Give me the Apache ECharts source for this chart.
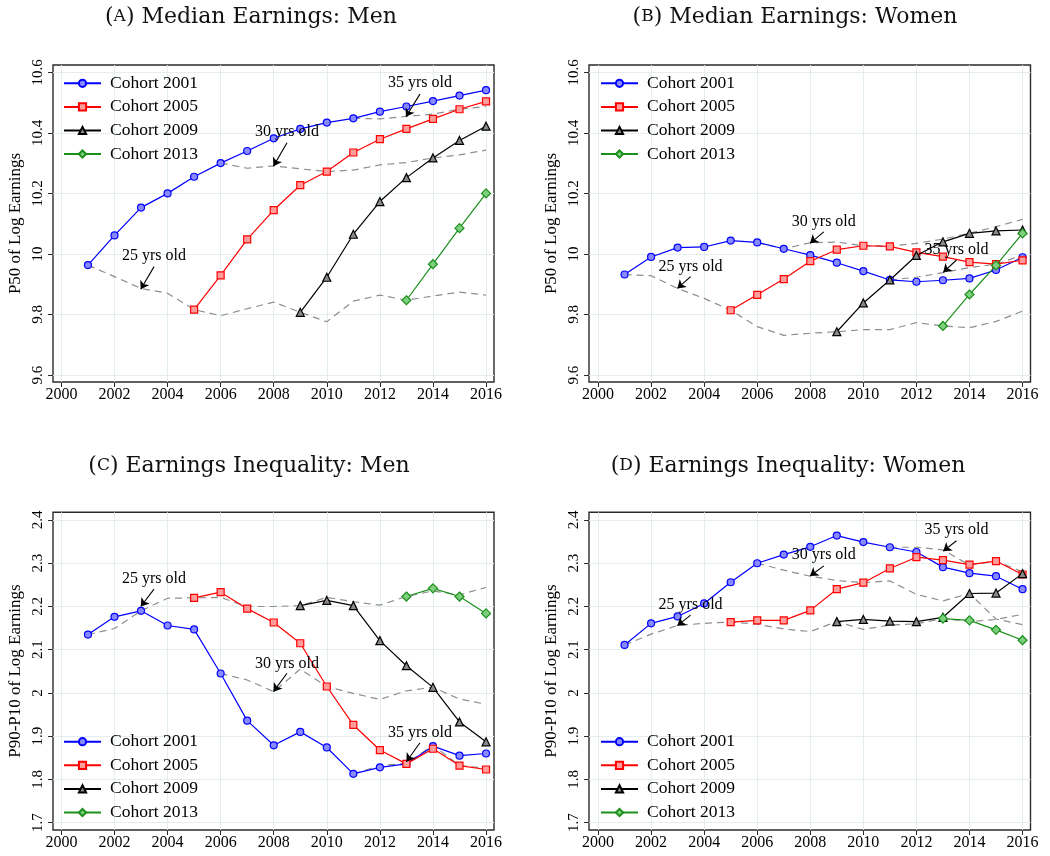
<!DOCTYPE html>
<html><head><meta charset="utf-8">
<script src="https://cdn.jsdelivr.net/npm/echarts@6/dist/echarts.min.js"></script>
<style>html,body{margin:0;padding:0;background:#fff}#c{width:1050px;height:856px}</style>
</head><body><div id="c"></div>
<script>
// ---------- DATA ----------
const xTicks = [2000, 2002, 2004, 2006, 2008, 2010, 2012, 2014, 2016];
const yTicksP50 = [9.6, 9.8, 10, 10.2, 10.4, 10.6];
const yTicksIneq = [1.7, 1.8, 1.9, 2, 2.1, 2.2, 2.3, 2.4];
const cohortNames = ['Cohort 2001', 'Cohort 2005', 'Cohort 2009', 'Cohort 2013'];
const cohortStart = [2001, 2005, 2009, 2013];
const ageStart = [2001, 2006, 2011]; // 25, 30, 35 yrs old profiles
const ageLabels = ['25 yrs old', '30 yrs old', '35 yrs old'];

// (A) Median earnings: men
const menP50_2001 = [9.963,10.061,10.153,10.200,10.255,10.300,10.340,10.382,10.413,10.434,10.448,10.470,10.487,10.505,10.523,10.541];
const menP50_2005 = [9.816,9.929,10.048,10.145,10.227,10.272,10.335,10.379,10.413,10.446,10.478,10.504];
const menP50_2009 = [9.807,9.923,10.065,10.173,10.252,10.317,10.375,10.422];
const menP50_2013 = [9.847,9.966,10.085,10.200];
const menP50_age25 = [9.963,9.925,9.886,9.870,9.816,9.796,9.819,9.841,9.807,9.776,9.844,9.864,9.847,9.861,9.874,9.864];
const menP50_age30 = [10.300,10.283,10.291,10.281,10.272,10.277,10.294,10.302,10.317,10.327,10.343];
const menP50_age35 = [10.448,10.446,10.454,10.462,10.478,10.487];

// (B) Median earnings: women
const womP50_2001 = [9.932,9.990,10.021,10.023,10.044,10.038,10.017,9.996,9.971,9.943,9.914,9.908,9.913,9.919,9.947,9.989];
const womP50_2005 = [9.814,9.865,9.917,9.976,10.014,10.027,10.025,10.005,9.991,9.973,9.966,9.979];
const womP50_2009 = [9.743,9.838,9.914,9.995,10.040,10.068,10.076,10.079];
const womP50_2013 = [9.762,9.866,9.962,10.068];
const womP50_age25 = [9.932,9.928,9.886,9.853,9.814,9.760,9.731,9.738,9.743,9.750,9.750,9.773,9.762,9.756,9.777,9.811];
const womP50_age30 = [10.038,10.017,10.037,10.039,10.027,10.026,10.035,10.049,10.068,10.090,10.114];
const womP50_age35 = [9.914,9.923,9.938,9.955,9.966,9.996];

// (C) Earnings inequality: men
const menIneq_2001 = [2.135,2.176,2.190,2.156,2.147,2.045,1.936,1.879,1.910,1.874,1.813,1.828,1.836,1.877,1.855,1.860];
const menIneq_2005 = [2.220,2.233,2.195,2.163,2.115,2.015,1.926,1.868,1.836,1.871,1.832,1.823];
const menIneq_2009 = [2.202,2.214,2.202,2.121,2.063,2.013,1.933,1.887];
const menIneq_2013 = [2.223,2.242,2.223,2.184];
const menIneq_age25 = [2.135,2.149,2.190,2.219,2.220,2.221,2.200,2.200,2.202,2.221,2.211,2.203,2.223,2.236,2.227,2.244];
const menIneq_age30 = [2.045,2.030,2.003,2.055,2.015,1.999,1.985,2.005,2.013,1.986,1.974];
const menIneq_age35 = [1.813,1.832,1.837,1.879,1.832,1.826];

// (D) Earnings inequality: women
const womIneq_2001 = [2.111,2.161,2.177,2.207,2.256,2.300,2.320,2.338,2.364,2.349,2.337,2.326,2.291,2.277,2.270,2.240];
const womIneq_2005 = [2.164,2.168,2.168,2.191,2.240,2.255,2.288,2.314,2.307,2.297,2.305,2.274];
const womIneq_2009 = [2.165,2.170,2.166,2.165,2.175,2.230,2.231,2.276];
const womIneq_2013 = [2.172,2.168,2.146,2.122];
const womIneq_age25 = [2.111,2.136,2.156,2.161,2.164,2.159,2.148,2.142,2.165,2.147,2.157,2.160,2.172,2.165,2.170,2.182];
const womIneq_age30 = [2.300,2.284,2.270,2.260,2.255,2.259,2.228,2.213,2.230,2.171,2.158];
const womIneq_age35 = [2.337,2.337,2.331,2.296,2.305,2.280];

// annotation anchors in data units: [textX, textY, arrowFromY, arrowToX, arrowToY]
const annotA = [[2003.49, 9.993, 9.958, 2002.99, 9.883], [2008.50, 10.403, 10.367, 2007.99, 10.290], [2013.51, 10.564, 10.528, 2012.98, 10.453]];
const annotB = [[2003.49, 9.958, 9.925, 2002.99, 9.886], [2008.51, 10.106, 10.073, 2007.99, 10.035], [2013.51, 10.013, 9.980, 2013.01, 9.939]];
const annotC = [[2003.49, 2.2636, 2.240, 2002.99, 2.200], [2008.50, 2.0686, 2.0455, 2007.99, 2.003], [2013.51, 1.909, 1.885, 2013.00, 1.841]];
const annotD = [[2003.49, 2.205, 2.180, 2002.99, 2.1556], [2008.51, 2.319, 2.294, 2007.99, 2.2705], [2013.51, 2.377, 2.352, 2013.01, 2.328]];

// ---------- LAYOUT / STYLE ----------
const FONT = '"Liberation Serif", "Times New Roman", serif';
const TFONT = '"DejaVu Serif", serif';
const panels = [
  {title: 'A', text: ') Median Earnings: Men', tx: 251, ty: 17, grid: {left: 53, top: 65, width: 441, height: 317},
   xr: [1999.683, 2016.30], yr: [9.5769, 10.6241], yTicks: yTicksP50, yName: 'P50 of Log Earnings',
   cohorts: [menP50_2001, menP50_2005, menP50_2009, menP50_2013], ages: [menP50_age25, menP50_age30, menP50_age35], annot: annotA,
   legend: {left: 63, top: 74.3}},
  {title: 'B', text: ') Median Earnings: Women', tx: 795, ty: 17, grid: {left: 589, top: 65, width: 441.5, height: 317},
   xr: [1999.66, 2016.30], yr: [9.5769, 10.6241], yTicks: yTicksP50, yName: 'P50 of Log Earnings',
   cohorts: [womP50_2001, womP50_2005, womP50_2009, womP50_2013], ages: [womP50_age25, womP50_age30, womP50_age35], annot: annotB,
   legend: {left: 600, top: 74.3}},
  {title: 'C', text: ') Earnings Inequality: Men', tx: 249, ty: 466, grid: {left: 53, top: 512.3, width: 441, height: 317.7},
   xr: [1999.683, 2016.30], yr: [1.6831, 2.4178], yTicks: yTicksIneq, yName: 'P90-P10 of Log Earnings',
   cohorts: [menIneq_2001, menIneq_2005, menIneq_2009, menIneq_2013], ages: [menIneq_age25, menIneq_age30, menIneq_age35], annot: annotC,
   legend: {left: 63, top: 732.7}},
  {title: 'D', text: ') Earnings Inequality: Women', tx: 788, ty: 466, grid: {left: 589, top: 512.3, width: 441.5, height: 317.7},
   xr: [1999.66, 2016.30], yr: [1.6831, 2.4178], yTicks: yTicksIneq, yName: 'P90-P10 of Log Earnings',
   cohorts: [womIneq_2001, womIneq_2005, womIneq_2009, womIneq_2013], ages: [womIneq_age25, womIneq_age30, womIneq_age35], annot: annotD,
   legend: {left: 600, top: 732.7}}
];
const cohortStyle = [
  {symbol: 'circle', size: 7, line: '#0000ff', fill: '#8a8aff'},
  {symbol: 'rect', size: 7, line: '#ff0000', fill: '#ff9c9c'},
  {symbol: 'triangle', size: 8, line: '#000000', fill: '#8a8a8a'},
  {symbol: 'diamond', size: 9, line: '#1b8f1b', fill: '#7dcf7d'}
];

const pairs = (start, arr) => arr.map((v, i) => [start + i, v]);

const option = {animation: false, backgroundColor: '#fff', grid: [], xAxis: [], yAxis: [], series: [], legend: [], graphic: []};

panels.forEach((p, pi) => {
  option.grid.push(Object.assign({show: true, borderColor: '#2b2b2b', borderWidth: 1.4, backgroundColor: 'transparent'}, p.grid));
  option.xAxis.push({
    type: 'value', gridIndex: pi, min: p.xr[0], max: p.xr[1], splitNumber: 8,
    axisLine: {show: false},
    axisTick: {show: true, length: 5, customValues: xTicks, lineStyle: {color: '#2b2b2b', width: 1}},
    axisLabel: {customValues: xTicks, fontFamily: FONT, fontSize: 16, color: '#000', margin: 5, formatter: v => String(Math.round(v))},
    splitLine: {show: true, lineStyle: {color: '#e4edef', width: 1}}
  });
  option.yAxis.push({
    type: 'value', gridIndex: pi, min: p.yr[0], max: p.yr[1],
    name: p.yName, nameLocation: 'middle', nameGap: 29,
    nameTextStyle: {fontFamily: FONT, fontSize: 17, color: '#000'},
    axisLine: {show: false},
    axisTick: {show: true, length: 5, customValues: p.yTicks, lineStyle: {color: '#2b2b2b', width: 1}},
    axisLabel: {customValues: p.yTicks, rotate: 90, fontFamily: FONT, fontSize: 15, color: '#000', margin: 7,
      formatter: v => String(Math.round(v * 10) / 10)},
    splitLine: {show: true, lineStyle: {color: '#e4edef', width: 1}}
  });
  // age profiles (dashed)
  p.ages.forEach((arr, ai) => {
    const a = p.annot[ai];
    option.series.push({
      type: 'line', name: ageLabels[ai] + ' ' + pi, xAxisIndex: pi, yAxisIndex: pi, data: pairs(ageStart[ai], arr),
      symbol: 'none', silent: true, z: 2,
      lineStyle: {color: '#8e8e8e', width: 1.2, type: [7, 5]},
      markLine: {silent: true, symbol: ['none', 'arrow'], symbolSize: 8, animation: false, z: 10,
        itemStyle: {color: '#000'},
        lineStyle: {color: '#000', width: 1.1, type: 'solid'}, label: {show: false},
        data: [[{coord: [a[0], a[2]]}, {coord: [a[3], a[4]]}]]},
      markPoint: {silent: true, symbol: 'rect', symbolSize: 1, itemStyle: {color: 'rgba(0,0,0,0)'}, z: 10,
        label: {show: true, position: 'inside', formatter: ageLabels[ai], fontFamily: FONT, fontSize: 16, color: '#000'},
        data: [{coord: [a[0], a[1]]}]}
    });
  });
  p.cohorts.forEach((arr, ci) => {
    const s = cohortStyle[ci];
    option.series.push({
      type: 'line', name: cohortNames[ci], xAxisIndex: pi, yAxisIndex: pi, data: pairs(cohortStart[ci], arr),
      symbol: s.symbol, symbolSize: s.size, showAllSymbol: true, z: 3 + ci,
      lineStyle: {color: s.line, width: 1.2},
      itemStyle: {color: s.fill, borderColor: s.line, borderWidth: 1.2}
    });
  });
  option.legend.push({
    data: cohortNames, orient: 'vertical', left: p.legend.left, top: p.legend.top, padding: 0,
    itemWidth: 37, itemHeight: 9, itemGap: 5.6, selectedMode: false,
    textStyle: {fontFamily: FONT, fontSize: 17.5, color: '#000', padding: [0, 0, 0, 4]}
  });
  option.graphic.push({
    type: 'text', x: p.tx, y: p.ty,
    style: {text: '{p|(}{s|' + p.title + '}{p|' + p.text + '}', align: 'center', verticalAlign: 'middle',
      rich: {p: {fontFamily: TFONT, fontSize: 22, fill: '#111'}, s: {fontFamily: TFONT, fontSize: 17, fill: '#111'}}}
  });
});

const chart = echarts.init(document.getElementById('c'), null, {renderer: 'canvas'});
chart.setOption(option);
</script>
</body></html>
